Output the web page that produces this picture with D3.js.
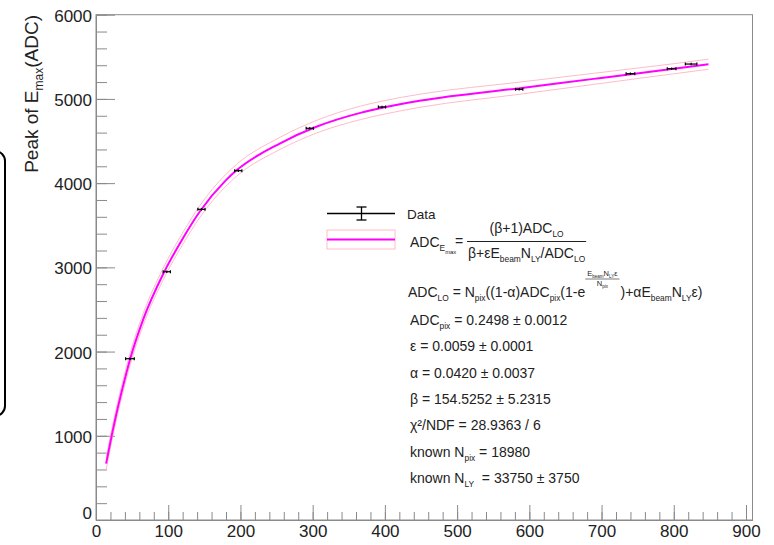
<!DOCTYPE html>
<html><head><meta charset="utf-8">
<script src="https://cdn.jsdelivr.net/npm/d3@7"></script>
<style>
body{margin:0;background:#fff}
svg{display:block;font-family:"Liberation Sans",Arial,Helvetica,sans-serif}
text{white-space:pre}
</style>
</head><body><svg id="c" width="774" height="545"></svg>
<script>
// ---- data ----
const energies  = [47, 98, 146, 197, 296, 396, 586, 740, 797, 824];
const peakADC   = [1915, 2948, 3689, 4148, 4651, 4904, 5114, 5299, 5359, 5414];
const energyErr = [6, 5, 5, 5, 5, 5, 5, 6, 6, 8];
const peakErr   = [15, 15, 15, 15, 15, 15, 15, 15, 15, 15];

const fitX    = [14, 22, 30, 41.5, 47, 65.5, 93, 121, 144, 179, 195, 255, 306, 366, 396, 450, 587, 689, 749, 800, 848];
const fitY    = [670, 1014, 1326, 1728, 1904, 2385, 2921, 3355, 3666, 4027, 4155, 4473, 4672, 4834, 4894, 4980, 5128, 5238, 5303, 5358, 5412];
const bandHalf= [70, 70, 70, 70, 70, 70, 70, 70, 70, 70, 70, 72, 75, 80, 80, 78, 72, 66, 62, 60, 60];

const xTickValues = d3.range(0, 901, 100);
const yTickValues = d3.range(0, 6001, 1000);
const xMinorValues = d3.range(0, 901, 20);
const yMinorValues = d3.range(0, 6001, 200);

const paramNames  = [[["ADC",0],["pix",1]], [["ε",0]], [["α",0]], [["β",0]]];
const paramValues = ["0.2498", "0.0059", "0.0420", "154.5252"];
const paramErrors = ["0.0012", "0.0001", "0.0037", "5.2315"];
const chi2Text = "28.9363 / 6";
const knownNpix = "18980";
const knownNly = "33750", knownNlyErr = "3750";

// ---- drawing ----
const svg = d3.select("#c");
const x = d3.scaleLinear().domain([0, 909]).range([96, 752.5]);
const y = d3.scaleLinear().domain([0, 6000]).range([520, 14.7]);
const axisColor = "#8a8a8a", textColor = "#222";

// left rounded box (partially off screen)
svg.append("rect").attr("x", -30).attr("y", 151).attr("width", 35).attr("height", 265)
  .attr("rx", 10).attr("fill", "none").attr("stroke", "#000").attr("stroke-width", 2);

// frame
svg.append("rect").attr("x", x(0)).attr("y", y(6000)).attr("width", x(909) - x(0)).attr("height", y(0) - y(6000))
  .attr("fill", "none").attr("stroke", axisColor).attr("stroke-width", 1);

// minor ticks
const gxm = svg.append("g").attr("transform", `translate(0,${y(0)})`)
  .call(d3.axisBottom(x).tickValues(xMinorValues).tickSize(-8).tickSizeOuter(0).tickFormat(""));
const gym = svg.append("g").attr("transform", `translate(${x(0)},0)`)
  .call(d3.axisLeft(y).tickValues(yMinorValues).tickSize(-11).tickSizeOuter(0).tickFormat(""));
// major ticks
const gx = svg.append("g").attr("transform", `translate(0,${y(0)})`)
  .call(d3.axisBottom(x).tickValues(xTickValues).tickSize(-15).tickSizeOuter(0).tickPadding(5).tickFormat(d3.format("d")));
const gy = svg.append("g").attr("transform", `translate(${x(0)},0)`)
  .call(d3.axisLeft(y).tickValues(yTickValues).tickSize(-19).tickSizeOuter(0).tickPadding(4).tickFormat(d3.format("d")));
[gxm, gym, gx, gy].forEach(g => {
  g.select(".domain").attr("stroke", axisColor);
  g.selectAll(".tick line").attr("stroke", axisColor);
  g.selectAll("text").attr("fill", textColor).attr("font-size", 17).attr("font-family", null);
});
gy.selectAll(".tick text").attr("dy", d => d === 0 ? "-0.1em" : "0.38em");

// y axis title
const yt = svg.append("text").attr("transform", "translate(38,15) rotate(-90)")
  .attr("text-anchor", "end").attr("font-size", 19).attr("fill", textColor);
yt.append("tspan").text("Peak of E");
yt.append("tspan").attr("font-size", 12).attr("dy", 5).text("max");
yt.append("tspan").attr("dy", -5).text("(ADC)");

// fit band + curve
const fitPts = fitX.map((v, i) => ({x: v, y: fitY[i], h: bandHalf[i]}));
const lineGen = acc => d3.line().x(d => x(d.x)).y(acc).curve(d3.curveMonotoneX);
svg.append("path").datum(fitPts).attr("d", lineGen(d => y(d.y + d.h)))
  .attr("fill", "none").attr("stroke", "#ffbcc8").attr("stroke-width", 1);
svg.append("path").datum(fitPts).attr("d", lineGen(d => y(d.y - d.h)))
  .attr("fill", "none").attr("stroke", "#ffbcc8").attr("stroke-width", 1);
svg.append("path").datum(fitPts).attr("d", lineGen(d => y(d.y)))
  .attr("fill", "none").attr("stroke", "#ff00ff").attr("stroke-width", 2);

// data points with errors
const pts = energies.map((e, i) => ({e, v: peakADC[i], de: energyErr[i], dv: peakErr[i]}));
const gp = svg.append("g").attr("stroke", "#000").attr("stroke-width", 1.2);
pts.forEach(d => {
  const cy = y(d.v), x0 = x(d.e - d.de), x1 = x(d.e + d.de), cx = x(d.e);
  gp.append("line").attr("x1", x0).attr("x2", x1).attr("y1", cy).attr("y2", cy);
  gp.append("line").attr("x1", x0).attr("x2", x0).attr("y1", cy - 1.5).attr("y2", cy + 1.5);
  gp.append("line").attr("x1", x1).attr("x2", x1).attr("y1", cy - 1.5).attr("y2", cy + 1.5);
  gp.append("line").attr("x1", cx).attr("x2", cx).attr("y1", y(d.v + d.dv)).attr("y2", y(d.v - d.dv));
});

// ---- legend ----
function rich(g, x0, y0, parts, size) {
  const t = g.append("text").attr("x", x0).attr("y", y0).attr("font-size", size).attr("fill", textColor);
  let cur = 0;
  parts.forEach(([s, lvl]) => {
    const sz = lvl === 0 ? size : lvl === 1 ? size * 0.6 : size * 0.42;
    const off = lvl === 0 ? 0 : lvl === 1 ? size * 0.32 : size * 0.5;
    t.append("tspan").attr("dy", off - cur).attr("font-size", sz).text(s);
    cur = off;
  });
  return t;
}
const lg = svg.append("g");
// Data entry
lg.append("line").attr("x1", 327).attr("x2", 395).attr("y1", 213.5).attr("y2", 213.5).attr("stroke", "#000").attr("stroke-width", 1.3);
lg.append("line").attr("x1", 361.5).attr("x2", 361.5).attr("y1", 207).attr("y2", 220).attr("stroke", "#000").attr("stroke-width", 1.3);
lg.append("line").attr("x1", 356.5).attr("x2", 366.5).attr("y1", 207).attr("y2", 207).attr("stroke", "#000").attr("stroke-width", 1.3);
lg.append("line").attr("x1", 356.5).attr("x2", 366.5).attr("y1", 220).attr("y2", 220).attr("stroke", "#000").attr("stroke-width", 1.3);
rich(lg, 407, 219, [["Data", 0]], 13.5);
// fit entry
lg.append("rect").attr("x", 327).attr("y", 230).attr("width", 68).attr("height", 19).attr("fill", "none").attr("stroke", "#ffbcc8");
lg.append("line").attr("x1", 327).attr("x2", 395).attr("y1", 239.5).attr("y2", 239.5).attr("stroke", "#ff00ff").attr("stroke-width", 2);

const fs = 14;
rich(lg, 410, 247, [["ADC", 0], ["E", 1], ["max", 2]], fs);
lg.append("text").attr("x", 455).attr("y", 246).attr("font-size", fs).attr("fill", textColor).text("=");
// fraction
const den = rich(lg, 468, 258, [["β+εE", 0], ["beam", 1], ["N", 0], ["LY", 1], ["/ADC", 0], ["LO", 1]], fs);
const dw = den.node().getComputedTextLength();
const num = rich(lg, 0, 233, [["(β+1)ADC", 0], ["LO", 1]], fs);
const nw = num.node().getComputedTextLength();
num.attr("x", 468 + (dw - nw) / 2);
lg.append("line").attr("x1", 467).attr("x2", 469 + dw).attr("y1", 241.5).attr("y2", 241.5).attr("stroke", "#222").attr("stroke-width", 1);

// ADC_LO formula
const f2a = rich(lg, 408, 297, [["ADC", 0], ["LO", 1], [" = N", 0], ["pix", 1], ["((1-α)ADC", 0], ["pix", 1], ["(1-e", 0]], fs);
const xa = 408 + f2a.node().getComputedTextLength();
const en = rich(lg, 0, 276, [["E", 0], ["beam", 1], ["N", 0], ["LY", 1], ["ε", 0]], 7.5);
const enw = en.node().getComputedTextLength();
const ed = rich(lg, 0, 286, [["N", 0], ["pix", 1]], 7.5);
const edw = ed.node().getComputedTextLength();
const fw = Math.max(enw, edw) + 4;
en.attr("x", xa + (fw - enw) / 2);
ed.attr("x", xa + (fw - edw) / 2);
lg.append("line").attr("x1", xa).attr("x2", xa + fw).attr("y1", 279).attr("y2", 279).attr("stroke", "#222").attr("stroke-width", 0.6);
rich(lg, xa + fw + 1, 297, [[")+αE", 0], ["beam", 1], ["N", 0], ["LY", 1], ["ε)", 0]], fs);

// parameter lines
const base0 = 325, step = 26.3;
paramNames.forEach((nm, i) => {
  rich(lg, 410, base0 + i * step, nm.concat([[" = " + paramValues[i] + " ± " + paramErrors[i], 0]]), fs);
});
rich(lg, 410, base0 + 4 * step, [["χ²/NDF = " + chi2Text, 0]], fs);
rich(lg, 410, base0 + 5 * step, [["known N", 0], ["pix", 1], [" = " + knownNpix, 0]], fs);
rich(lg, 410, base0 + 6 * step, [["known N", 0], ["LY", 1], ["  = " + knownNly + " ± " + knownNlyErr, 0]], fs);
</script>
</body></html>
